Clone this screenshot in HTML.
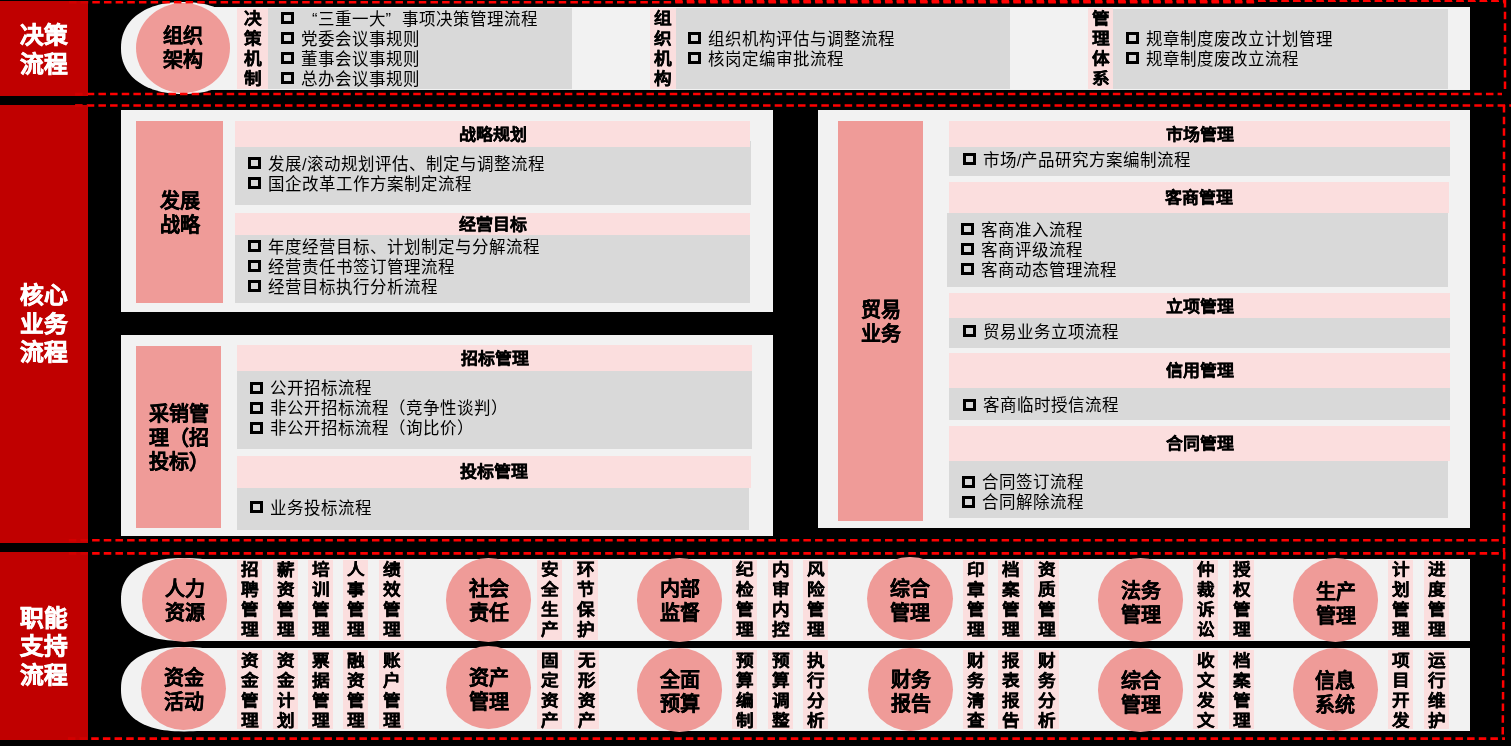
<!DOCTYPE html>
<html lang="zh-CN"><head><meta charset="utf-8">
<style>
html,body{margin:0;padding:0}
body{width:1511px;height:746px;background:#000;position:relative;overflow:hidden;font-family:"Liberation Sans",sans-serif;color:#000}
body div{position:absolute;box-sizing:border-box}
.ct{display:flex;align-items:center;justify-content:center;text-align:center;font-weight:bold}
.side{color:#fff;font-size:23px;line-height:28.4px;-webkit-text-stroke:0.6px #fff}
.side span{display:inline-block;transform:scaleX(1.03);position:relative;top:1.3px}
.big{font-size:20px;line-height:24px;-webkit-text-stroke:0.3px #000}
.hd{font-size:16px;line-height:20px;-webkit-text-stroke:0.3px #000}
.hd span{display:inline-block;transform:scaleX(1.06);padding-top:1.3px}
.vl{font-size:16px;line-height:20px;font-weight:bold;text-align:center;-webkit-text-stroke:0.3px #000;transform:scaleX(1.1)}
.bl{width:13px;height:12px;border:3px solid #000}
.li{font-size:16.5px;line-height:20px;white-space:nowrap}
svg{position:absolute;left:0;top:0}
.ql,.qr{display:inline-block;width:1em}
.ql{text-align:right}.qr{text-align:left}
#w{left:0;top:0;width:1511px;height:746px;will-change:transform}
</style></head><body><div id="w">

<div style="left:0px;top:1px;width:88px;height:94.5px;background:#c00000;"></div>
<div style="left:0px;top:105px;width:88px;height:438px;background:#c00000;"></div>
<div style="left:0px;top:552px;width:88px;height:188px;background:#c00000;"></div>
<div class="ct side" style="left:0px;top:1px;width:88px;height:94.5px;"><span>决策<br>流程</span></div>
<div class="ct side" style="left:0px;top:103.8px;width:88px;height:437.99999999999994px;"><span>核心<br>业务<br>流程</span></div>
<div class="ct side" style="left:0px;top:551.3px;width:88px;height:188.0px;"><span>职能<br>支持<br>流程</span></div>
<svg style="position:absolute;left:121px;top:2px;overflow:visible" width="124" height="92"><polygon points="124.00,46.00 123.92,49.15 123.69,51.90 123.31,54.52 122.77,57.03 122.08,59.46 121.24,61.82 120.24,64.10 119.11,66.30 117.83,68.44 116.40,70.50 114.84,72.48 113.13,74.38 111.30,76.19 109.34,77.93 107.24,79.57 105.03,81.12 102.70,82.58 100.25,83.94 97.69,85.20 95.02,86.36 92.24,87.42 89.37,88.37 86.39,89.21 83.32,89.95 80.14,90.57 76.87,91.09 73.48,91.48 69.96,91.77 66.24,91.94 62.00,92.00 57.76,91.94 54.04,91.77 50.52,91.48 47.13,91.09 43.86,90.57 40.68,89.95 37.61,89.21 34.63,88.37 31.76,87.42 28.98,86.36 26.31,85.20 23.75,83.94 21.30,82.58 18.97,81.12 16.76,79.57 14.66,77.93 12.70,76.19 10.87,74.38 9.16,72.48 7.60,70.50 6.17,68.44 4.89,66.30 3.76,64.10 2.76,61.82 1.92,59.46 1.23,57.03 0.69,54.52 0.31,51.90 0.08,49.15 0.00,46.00 0.08,42.85 0.31,40.10 0.69,37.48 1.23,34.97 1.92,32.54 2.76,30.18 3.76,27.90 4.89,25.70 6.17,23.56 7.60,21.50 9.16,19.52 10.87,17.62 12.70,15.81 14.66,14.07 16.76,12.43 18.97,10.88 21.30,9.42 23.75,8.06 26.31,6.80 28.98,5.64 31.76,4.58 34.63,3.63 37.61,2.79 40.68,2.05 43.86,1.43 47.13,0.91 50.52,0.52 54.04,0.23 57.76,0.06 62.00,0.00 66.24,0.06 69.96,0.23 73.48,0.52 76.87,0.91 80.14,1.43 83.32,2.05 86.39,2.79 89.37,3.63 92.24,4.58 95.02,5.64 97.69,6.80 100.25,8.06 102.70,9.42 105.03,10.88 107.24,12.43 109.34,14.07 111.30,15.81 113.13,17.62 114.84,19.52 116.40,21.50 117.83,23.56 119.11,25.70 120.24,27.90 121.24,30.18 122.08,32.54 122.77,34.97 123.31,37.48 123.69,40.10 123.92,42.85" fill="#f2f2f2"/></svg>
<div style="left:183px;top:7px;width:1287px;height:82.5px;background:#f2f2f2;"></div>
<div style="left:136px;top:2.5px;width:94px;height:90px;border-radius:50%;background:#ef9b98"></div>
<div class="ct big" style="left:136px;top:2.5px;width:94px;height:90.0px;">组织<br>架构</div>
<div style="left:237px;top:7.5px;width:31px;height:81.2px;background:#fbdede"></div>
<div class="vl" style="left:232px;top:9.3px;width:41px">决<br>策<br>机<br>制</div>
<div style="left:268px;top:7.5px;width:304px;height:81.2px;background:#d9d9d9;"></div>
<div class="bl" style="left:281px;top:12px"></div>
<div class="li" style="left:301.1px;top:8.6px"><span class=ql>“</span>三重一大<span class=qr>”</span>事项决策管理流程</div>
<div class="bl" style="left:281px;top:32px"></div>
<div class="li" style="left:301.1px;top:28.6px">党委会议事规则</div>
<div class="bl" style="left:281px;top:52px"></div>
<div class="li" style="left:301.1px;top:48.6px">董事会议事规则</div>
<div class="bl" style="left:281px;top:72px"></div>
<div class="li" style="left:301.1px;top:68.6px">总办会议事规则</div>
<div style="left:650px;top:7.5px;width:26px;height:81.2px;background:#fbdede"></div>
<div class="vl" style="left:645px;top:9.3px;width:36px">组<br>织<br>机<br>构</div>
<div style="left:676px;top:7.5px;width:334px;height:81.2px;background:#d9d9d9;"></div>
<div class="bl" style="left:688px;top:32px"></div>
<div class="li" style="left:708.1px;top:28.6px">组织机构评估与调整流程</div>
<div class="bl" style="left:688px;top:52px"></div>
<div class="li" style="left:708.1px;top:48.6px">核岗定编审批流程</div>
<div style="left:1088px;top:7.5px;width:25px;height:81.2px;background:#fbdede"></div>
<div class="vl" style="left:1083px;top:9.3px;width:35px">管<br>理<br>体<br>系</div>
<div style="left:1113px;top:8.5px;width:335px;height:80.2px;background:#d9d9d9;"></div>
<div class="bl" style="left:1126px;top:32px"></div>
<div class="li" style="left:1146.1px;top:28.6px">规章制度废改立计划管理</div>
<div class="bl" style="left:1126px;top:52px"></div>
<div class="li" style="left:1146.1px;top:48.6px">规章制度废改立流程</div>
<div style="left:121px;top:110px;width:652px;height:201.60000000000002px;background:#f2f2f2;"></div>
<div style="left:136px;top:121px;width:87px;height:181.60000000000002px;background:#ef9b98;"></div>
<div class="ct big" style="left:136px;top:122.3px;width:87px;height:181.59999999999997px;">发展<br>战略</div>
<div style="left:235px;top:141px;width:516px;height:64.4px;background:#d9d9d9;"></div>
<div style="left:235px;top:121px;width:515px;height:26px;background:#fbdede;"></div>
<div class="ct hd" style="left:235px;top:121px;width:515px;height:26px;"><span>战略规划</span></div>
<div class="bl" style="left:248px;top:157px"></div>
<div class="li" style="left:268.1px;top:153.6px">发展/滚动规划评估、制定与调整流程</div>
<div class="bl" style="left:248px;top:177px"></div>
<div class="li" style="left:268.1px;top:173.6px">国企改革工作方案制定流程</div>
<div style="left:235px;top:213.2px;width:515px;height:21.80000000000001px;background:#fbdede;"></div>
<div class="ct hd" style="left:235px;top:213.2px;width:515px;height:21.80000000000001px;"><span>经营目标</span></div>
<div style="left:235px;top:235px;width:515px;height:67.60000000000002px;background:#d9d9d9;"></div>
<div class="bl" style="left:248px;top:240px"></div>
<div class="li" style="left:268.1px;top:236.6px">年度经营目标、计划制定与分解流程</div>
<div class="bl" style="left:248px;top:260px"></div>
<div class="li" style="left:268.1px;top:256.6px">经营责任书签订管理流程</div>
<div class="bl" style="left:248px;top:280px"></div>
<div class="li" style="left:268.1px;top:276.6px">经营目标执行分析流程</div>
<div style="left:121px;top:334.8px;width:652px;height:201.2px;background:#f2f2f2;"></div>
<div style="left:136px;top:346px;width:85.19999999999999px;height:182px;background:#ef9b98;"></div>
<div class="ct big" style="left:136px;top:347px;width:85.19999999999999px;height:182px;text-align:left">采销管<br>理（招<br>投标）</div>
<div style="left:237px;top:345.4px;width:515px;height:25.400000000000034px;background:#fbdede;"></div>
<div class="ct hd" style="left:237px;top:345.4px;width:515px;height:25.400000000000034px;"><span>招标管理</span></div>
<div style="left:237px;top:370.8px;width:515px;height:77.80000000000001px;background:#d9d9d9;"></div>
<div class="bl" style="left:250px;top:381.5px"></div>
<div class="li" style="left:270.1px;top:378.1px">公开招标流程</div>
<div class="bl" style="left:250px;top:401.5px"></div>
<div class="li" style="left:270.1px;top:398.1px">非公开招标流程（竞争性谈判）</div>
<div class="bl" style="left:250px;top:421.5px"></div>
<div class="li" style="left:270.1px;top:418.1px">非公开招标流程（询比价）</div>
<div style="left:237px;top:456px;width:514px;height:31.5px;background:#fbdede;"></div>
<div class="ct hd" style="left:237px;top:456px;width:514px;height:31.5px;"><span>投标管理</span></div>
<div style="left:237px;top:487.5px;width:512px;height:42.299999999999955px;background:#d9d9d9;"></div>
<div class="bl" style="left:250px;top:501px"></div>
<div class="li" style="left:270.1px;top:497.6px">业务投标流程</div>
<div style="left:818px;top:110px;width:652px;height:417.70000000000005px;background:#f2f2f2;"></div>
<div style="left:838px;top:121px;width:85px;height:399.5px;background:#ef9b98;"></div>
<div class="ct big" style="left:838px;top:121.8px;width:85px;height:399.49999999999994px;">贸易<br>业务</div>
<div style="left:949px;top:121px;width:501px;height:26px;background:#fbdede;"></div>
<div class="ct hd" style="left:949px;top:121px;width:501px;height:26px;"><span>市场管理</span></div>
<div style="left:949px;top:147px;width:501px;height:28.599999999999994px;background:#d9d9d9;"></div>
<div class="bl" style="left:962.6px;top:153px"></div>
<div class="li" style="left:982.7px;top:149.6px">市场/产品研究方案编制流程</div>
<div style="left:949px;top:182px;width:500px;height:31px;background:#fbdede;"></div>
<div class="ct hd" style="left:949px;top:182px;width:500px;height:31px;"><span>客商管理</span></div>
<div style="left:947px;top:213px;width:501px;height:74px;background:#d9d9d9;"></div>
<div class="bl" style="left:961px;top:223.2px"></div>
<div class="li" style="left:981.1px;top:219.79999999999998px">客商准入流程</div>
<div class="bl" style="left:961px;top:243.2px"></div>
<div class="li" style="left:981.1px;top:239.79999999999998px">客商评级流程</div>
<div class="bl" style="left:961px;top:263.2px"></div>
<div class="li" style="left:981.1px;top:259.8px">客商动态管理流程</div>
<div style="left:949px;top:293px;width:501px;height:25px;background:#fbdede;"></div>
<div class="ct hd" style="left:949px;top:294px;width:501px;height:25px;"><span>立项管理</span></div>
<div style="left:949px;top:318px;width:501px;height:29.600000000000023px;background:#d9d9d9;"></div>
<div class="bl" style="left:962.6px;top:325px"></div>
<div class="li" style="left:982.7px;top:321.6px">贸易业务立项流程</div>
<div style="left:949px;top:353px;width:501px;height:34.69999999999999px;background:#fbdede;"></div>
<div class="ct hd" style="left:949px;top:353px;width:501px;height:34.69999999999999px;"><span>信用管理</span></div>
<div style="left:949px;top:387.7px;width:501px;height:32.80000000000001px;background:#d9d9d9;"></div>
<div class="bl" style="left:962.6px;top:398.5px"></div>
<div class="li" style="left:982.7px;top:395.1px">客商临时授信流程</div>
<div style="left:949px;top:425.8px;width:501px;height:34.89999999999998px;background:#fbdede;"></div>
<div class="ct hd" style="left:949px;top:425.8px;width:501px;height:34.89999999999998px;"><span>合同管理</span></div>
<div style="left:949px;top:460.7px;width:499px;height:56.900000000000034px;background:#d9d9d9;"></div>
<div class="bl" style="left:962px;top:475.5px"></div>
<div class="li" style="left:982.1px;top:472.1px">合同签订流程</div>
<div class="bl" style="left:962px;top:495.5px"></div>
<div class="li" style="left:982.1px;top:492.1px">合同解除流程</div>
<svg style="position:absolute;left:121px;top:558.2px;overflow:visible" width="126" height="83.00000000000007"><polygon points="126.00,41.50 125.93,44.87 125.71,47.57 125.34,50.06 124.83,52.40 124.17,54.64 123.37,56.78 122.42,58.83 121.33,60.80 120.11,62.69 118.74,64.51 117.24,66.24 115.60,67.90 113.83,69.48 111.93,70.98 109.91,72.40 107.75,73.73 105.48,74.99 103.08,76.15 100.56,77.23 97.93,78.22 95.17,79.12 92.30,79.93 89.31,80.64 86.19,81.26 82.94,81.79 79.55,82.23 75.99,82.56 72.22,82.81 68.12,82.95 63.00,83.00 57.88,82.95 53.78,82.81 50.01,82.56 46.45,82.23 43.06,81.79 39.81,81.26 36.69,80.64 33.70,79.93 30.83,79.12 28.07,78.22 25.44,77.23 22.92,76.15 20.52,74.99 18.25,73.73 16.09,72.40 14.07,70.98 12.17,69.48 10.40,67.90 8.76,66.24 7.26,64.51 5.89,62.69 4.67,60.80 3.58,58.83 2.63,56.78 1.83,54.64 1.17,52.40 0.66,50.06 0.29,47.57 0.07,44.87 0.00,41.50 0.07,38.13 0.29,35.43 0.66,32.94 1.17,30.60 1.83,28.36 2.63,26.22 3.58,24.17 4.67,22.20 5.89,20.31 7.26,18.49 8.76,16.76 10.40,15.10 12.17,13.52 14.07,12.02 16.09,10.60 18.25,9.27 20.52,8.01 22.92,6.85 25.44,5.77 28.07,4.78 30.83,3.88 33.70,3.07 36.69,2.36 39.81,1.74 43.06,1.21 46.45,0.77 50.01,0.44 53.78,0.19 57.88,0.05 63.00,0.00 68.12,0.05 72.22,0.19 75.99,0.44 79.55,0.77 82.94,1.21 86.19,1.74 89.31,2.36 92.30,3.07 95.17,3.88 97.93,4.78 100.56,5.77 103.08,6.85 105.48,8.01 107.75,9.27 109.91,10.60 111.93,12.02 113.83,13.52 115.60,15.10 117.24,16.76 118.74,18.49 120.11,20.31 121.33,22.20 122.42,24.17 123.37,26.22 124.17,28.36 124.83,30.60 125.34,32.94 125.71,35.43 125.93,38.13" fill="#f2f2f2"/></svg>
<div style="left:184px;top:558.8px;width:1286px;height:81.80000000000007px;background:#f2f2f2;"></div>
<svg style="position:absolute;left:121px;top:647.0000000000001px;overflow:visible" width="126" height="84.39999999999993"><polygon points="126.00,42.20 125.93,45.63 125.71,48.37 125.34,50.90 124.83,53.29 124.17,55.56 123.37,57.73 122.42,59.82 121.33,61.83 120.11,63.75 118.74,65.59 117.24,67.36 115.60,69.05 113.83,70.65 111.93,72.18 109.91,73.62 107.75,74.98 105.48,76.25 103.08,77.44 100.56,78.53 97.93,79.54 95.17,80.45 92.30,81.27 89.31,82.00 86.19,82.64 82.94,83.17 79.55,83.61 75.99,83.96 72.22,84.20 68.12,84.35 63.00,84.40 57.88,84.35 53.78,84.20 50.01,83.96 46.45,83.61 43.06,83.17 39.81,82.64 36.69,82.00 33.70,81.27 30.83,80.45 28.07,79.54 25.44,78.53 22.92,77.44 20.52,76.25 18.25,74.98 16.09,73.62 14.07,72.18 12.17,70.65 10.40,69.05 8.76,67.36 7.26,65.59 5.89,63.75 4.67,61.83 3.58,59.82 2.63,57.73 1.83,55.56 1.17,53.29 0.66,50.90 0.29,48.37 0.07,45.63 0.00,42.20 0.07,38.77 0.29,36.03 0.66,33.50 1.17,31.11 1.83,28.84 2.63,26.67 3.58,24.58 4.67,22.57 5.89,20.65 7.26,18.81 8.76,17.04 10.40,15.35 12.17,13.75 14.07,12.22 16.09,10.78 18.25,9.42 20.52,8.15 22.92,6.96 25.44,5.87 28.07,4.86 30.83,3.95 33.70,3.13 36.69,2.40 39.81,1.76 43.06,1.23 46.45,0.79 50.01,0.44 53.78,0.20 57.88,0.05 63.00,0.00 68.12,0.05 72.22,0.20 75.99,0.44 79.55,0.79 82.94,1.23 86.19,1.76 89.31,2.40 92.30,3.13 95.17,3.95 97.93,4.86 100.56,5.87 103.08,6.96 105.48,8.15 107.75,9.42 109.91,10.78 111.93,12.22 113.83,13.75 115.60,15.35 117.24,17.04 118.74,18.81 120.11,20.65 121.33,22.57 122.42,24.58 123.37,26.67 124.17,28.84 124.83,31.11 125.34,33.50 125.71,36.03 125.93,38.77" fill="#f2f2f2"/></svg>
<div style="left:184px;top:647.6px;width:1286px;height:83.19999999999993px;background:#f2f2f2;"></div>
<div style="left:141.89999999999998px;top:558.2px;width:85.4px;height:83.6px;border-radius:50%;background:#ef9b98"></div>
<div class="ct big" style="left:139.6px;top:558.85px;width:90.0px;height:84.0px;">人力<br>资源</div>
<div style="left:237px;top:559.6px;width:25px;height:80.39999999999998px;background:#fbdede"></div>
<div class="vl" style="left:232px;top:559.7px;width:35px">招<br>聘<br>管<br>理</div>
<div style="left:273px;top:559.6px;width:25px;height:80.39999999999998px;background:#fbdede"></div>
<div class="vl" style="left:268px;top:559.7px;width:35px">薪<br>资<br>管<br>理</div>
<div style="left:308px;top:559.6px;width:25px;height:80.39999999999998px;background:#fbdede"></div>
<div class="vl" style="left:303px;top:559.7px;width:35px">培<br>训<br>管<br>理</div>
<div style="left:343px;top:559.6px;width:25px;height:80.39999999999998px;background:#fbdede"></div>
<div class="vl" style="left:338px;top:559.7px;width:35px">人<br>事<br>管<br>理</div>
<div style="left:379px;top:559.6px;width:25px;height:80.39999999999998px;background:#fbdede"></div>
<div class="vl" style="left:374px;top:559.7px;width:35px">绩<br>效<br>管<br>理</div>
<div style="left:446.1px;top:558.1px;width:85.4px;height:83.6px;border-radius:50%;background:#ef9b98"></div>
<div class="ct big" style="left:443.8px;top:559.0px;width:89.99999999999994px;height:84.0px;">社会<br>责任</div>
<div style="left:537.3px;top:559.6px;width:25.0px;height:80.39999999999998px;background:#fbdede"></div>
<div class="vl" style="left:532.3px;top:559.7px;width:35.0px">安<br>全<br>生<br>产</div>
<div style="left:573.2px;top:559.6px;width:25.0px;height:80.39999999999998px;background:#fbdede"></div>
<div class="vl" style="left:568.2px;top:559.7px;width:35.0px">环<br>节<br>保<br>护</div>
<div style="left:637.0px;top:558.0500000000001px;width:85.4px;height:83.6px;border-radius:50%;background:#ef9b98"></div>
<div class="ct big" style="left:634.7px;top:559.2px;width:90.0px;height:84.0px;">内部<br>监督</div>
<div style="left:732.1px;top:559.6px;width:25.0px;height:80.39999999999998px;background:#fbdede"></div>
<div class="vl" style="left:727.1px;top:559.7px;width:35.0px">纪<br>检<br>管<br>理</div>
<div style="left:768px;top:559.6px;width:25px;height:80.39999999999998px;background:#fbdede"></div>
<div class="vl" style="left:763px;top:559.7px;width:35px">内<br>审<br>内<br>控</div>
<div style="left:803.2px;top:559.6px;width:25.0px;height:80.39999999999998px;background:#fbdede"></div>
<div class="vl" style="left:798.2px;top:559.7px;width:35.0px">风<br>险<br>管<br>理</div>
<div style="left:867.4px;top:556.5px;width:85.4px;height:83.6px;border-radius:50%;background:#ef9b98"></div>
<div class="ct big" style="left:865.1px;top:559.0px;width:90.0px;height:84.0px;">综合<br>管理</div>
<div style="left:963.1px;top:559.6px;width:25.0px;height:80.39999999999998px;background:#fbdede"></div>
<div class="vl" style="left:958.1px;top:559.7px;width:35.0px">印<br>章<br>管<br>理</div>
<div style="left:998px;top:559.6px;width:25px;height:80.39999999999998px;background:#fbdede"></div>
<div class="vl" style="left:993px;top:559.7px;width:35px">档<br>案<br>管<br>理</div>
<div style="left:1034.2px;top:559.6px;width:25.0px;height:80.39999999999998px;background:#fbdede"></div>
<div class="vl" style="left:1029.2px;top:559.7px;width:35.0px">资<br>质<br>管<br>理</div>
<div style="left:1097.8999999999999px;top:558.0500000000001px;width:85.4px;height:83.6px;border-radius:50%;background:#ef9b98"></div>
<div class="ct big" style="left:1095.6px;top:560.9px;width:90.0px;height:84.0px;">法务<br>管理</div>
<div style="left:1193.1px;top:559.6px;width:25.0px;height:80.39999999999998px;background:#fbdede"></div>
<div class="vl" style="left:1188.1px;top:559.7px;width:35.0px">仲<br>裁<br>诉<br>讼</div>
<div style="left:1229px;top:559.6px;width:25px;height:80.39999999999998px;background:#fbdede"></div>
<div class="vl" style="left:1224px;top:559.7px;width:35px">授<br>权<br>管<br>理</div>
<div style="left:1292.8999999999999px;top:558.1px;width:85.4px;height:83.6px;border-radius:50%;background:#ef9b98"></div>
<div class="ct big" style="left:1290.6px;top:561.85px;width:90.0px;height:84.0px;">生产<br>管理</div>
<div style="left:1388.4px;top:559.6px;width:25.0px;height:80.39999999999998px;background:#fbdede"></div>
<div class="vl" style="left:1383.4px;top:559.7px;width:35.0px">计<br>划<br>管<br>理</div>
<div style="left:1424.2px;top:559.6px;width:25.0px;height:80.39999999999998px;background:#fbdede"></div>
<div class="vl" style="left:1419.2px;top:559.7px;width:35.0px">进<br>度<br>管<br>理</div>
<div style="left:140.89999999999998px;top:646.7px;width:85.4px;height:83.6px;border-radius:50%;background:#ef9b98"></div>
<div class="ct big" style="left:138.6px;top:648.1px;width:90.0px;height:84.0px;">资金<br>活动</div>
<div style="left:237px;top:650px;width:25px;height:79.39999999999998px;background:#fbdede"></div>
<div class="vl" style="left:232px;top:650.5px;width:35px">资<br>金<br>管<br>理</div>
<div style="left:273px;top:650px;width:25px;height:79.39999999999998px;background:#fbdede"></div>
<div class="vl" style="left:268px;top:650.5px;width:35px">资<br>金<br>计<br>划</div>
<div style="left:308px;top:650px;width:25px;height:79.39999999999998px;background:#fbdede"></div>
<div class="vl" style="left:303px;top:650.5px;width:35px">票<br>据<br>管<br>理</div>
<div style="left:343px;top:650px;width:25px;height:79.39999999999998px;background:#fbdede"></div>
<div class="vl" style="left:338px;top:650.5px;width:35px">融<br>资<br>管<br>理</div>
<div style="left:379px;top:650px;width:25px;height:79.39999999999998px;background:#fbdede"></div>
<div class="vl" style="left:374px;top:650.5px;width:35px">账<br>户<br>管<br>理</div>
<div style="left:446.1px;top:645.9000000000001px;width:85.4px;height:83.6px;border-radius:50%;background:#ef9b98"></div>
<div class="ct big" style="left:443.8px;top:648.4px;width:89.99999999999994px;height:84.0px;">资产<br>管理</div>
<div style="left:537px;top:650px;width:25px;height:79.39999999999998px;background:#fbdede"></div>
<div class="vl" style="left:532px;top:650.5px;width:35px">固<br>定<br>资<br>产</div>
<div style="left:573.5px;top:650px;width:25.0px;height:79.39999999999998px;background:#fbdede"></div>
<div class="vl" style="left:568.5px;top:650.5px;width:35.0px">无<br>形<br>资<br>产</div>
<div style="left:637.0999999999999px;top:648.4000000000001px;width:85.4px;height:83.6px;border-radius:50%;background:#ef9b98"></div>
<div class="ct big" style="left:634.8px;top:649.7px;width:90.0px;height:84.0px;">全面<br>预算</div>
<div style="left:732.2px;top:650px;width:25.0px;height:79.39999999999998px;background:#fbdede"></div>
<div class="vl" style="left:727.2px;top:650.5px;width:35.0px">预<br>算<br>编<br>制</div>
<div style="left:768px;top:650px;width:25px;height:79.39999999999998px;background:#fbdede"></div>
<div class="vl" style="left:763px;top:650.5px;width:35px">预<br>算<br>调<br>整</div>
<div style="left:803px;top:650px;width:25px;height:79.39999999999998px;background:#fbdede"></div>
<div class="vl" style="left:798px;top:650.5px;width:35px">执<br>行<br>分<br>析</div>
<div style="left:868.0999999999999px;top:647.6px;width:85.4px;height:83.6px;border-radius:50%;background:#ef9b98"></div>
<div class="ct big" style="left:865.8px;top:650.1px;width:90.0px;height:84.0px;">财务<br>报告</div>
<div style="left:963.1px;top:650px;width:25.0px;height:79.39999999999998px;background:#fbdede"></div>
<div class="vl" style="left:958.1px;top:650.5px;width:35.0px">财<br>务<br>清<br>查</div>
<div style="left:998px;top:650px;width:25px;height:79.39999999999998px;background:#fbdede"></div>
<div class="vl" style="left:993px;top:650.5px;width:35px">报<br>表<br>报<br>告</div>
<div style="left:1034px;top:650px;width:25px;height:79.39999999999998px;background:#fbdede"></div>
<div class="vl" style="left:1029px;top:650.5px;width:35px">财<br>务<br>分<br>析</div>
<div style="left:1097.8999999999999px;top:648.4000000000001px;width:85.4px;height:83.6px;border-radius:50%;background:#ef9b98"></div>
<div class="ct big" style="left:1095.6px;top:650.7px;width:90.0px;height:84.0px;">综合<br>管理</div>
<div style="left:1193px;top:650px;width:25px;height:79.39999999999998px;background:#fbdede"></div>
<div class="vl" style="left:1188px;top:650.5px;width:35px">收<br>文<br>发<br>文</div>
<div style="left:1228.6px;top:650px;width:25.0px;height:79.39999999999998px;background:#fbdede"></div>
<div class="vl" style="left:1223.6px;top:650.5px;width:35.0px">档<br>案<br>管<br>理</div>
<div style="left:1292.7px;top:647.7px;width:85.4px;height:83.6px;border-radius:50%;background:#ef9b98"></div>
<div class="ct big" style="left:1290.4px;top:651.0px;width:90.0px;height:84.0px;">信息<br>系统</div>
<div style="left:1388.4px;top:650px;width:25.0px;height:79.39999999999998px;background:#fbdede"></div>
<div class="vl" style="left:1383.4px;top:650.5px;width:35.0px">项<br>目<br>开<br>发</div>
<div style="left:1423.8px;top:650px;width:25.0px;height:79.39999999999998px;background:#fbdede"></div>
<div class="vl" style="left:1418.8px;top:650.5px;width:35.0px">运<br>行<br>维<br>护</div>
<svg width="1511" height="746" viewBox="0 0 1511 746">
<line x1="69" y1="2.2" x2="1506" y2="2.2" stroke="#ff0000" stroke-width="2.6" stroke-dasharray="7.5 4.16"/>
<line x1="675" y1="1.2" x2="1506" y2="1.2" stroke="#ff0000" stroke-width="2.4" stroke-dasharray="7.5 4.16"/>
<rect x="1256" y="2" width="247" height="2" fill="#000"/>
<line x1="75.1" y1="94" x2="1502" y2="94" stroke="#ff0000" stroke-width="2.6" stroke-dasharray="7.5 4.16"/>
<line x1="1505" y1="0" x2="1505" y2="92" stroke="#ff0000" stroke-width="2.5" stroke-dasharray="7.5 4.16"/>
<line x1="75.1" y1="105.5" x2="1511" y2="105.5" stroke="#ff0000" stroke-width="2.6" stroke-dasharray="7.5 4.16"/>
<line x1="68.8" y1="540.2" x2="1504" y2="540.2" stroke="#ff0000" stroke-width="2.6" stroke-dasharray="7.5 4.16"/>
<line x1="1504" y1="105" x2="1504" y2="552" stroke="#ff0000" stroke-width="2.5" stroke-dasharray="7.5 4.16"/>
<line x1="68.8" y1="553.4" x2="1500" y2="553.4" stroke="#ff0000" stroke-width="2.6" stroke-dasharray="7.5 4.16"/>
<line x1="67.9" y1="738.6" x2="1505" y2="738.6" stroke="#ff0000" stroke-width="2.6" stroke-dasharray="7.5 4.16"/>
<line x1="1504.2" y1="552" x2="1502.7" y2="738" stroke="#ff0000" stroke-width="2.5" stroke-dasharray="7.5 4.16"/>
<rect x="60" y="1" width="28" height="3" fill="#c00000" fill-opacity="0.72"/>
<rect x="60" y="92" width="28" height="3.5" fill="#c00000" fill-opacity="0.72"/>
<rect x="60" y="105" width="28" height="3" fill="#c00000" fill-opacity="0.72"/>
<rect x="60" y="538" width="28" height="5" fill="#c00000" fill-opacity="0.72"/>
<rect x="60" y="552" width="28" height="4" fill="#c00000" fill-opacity="0.72"/>
<rect x="60" y="736" width="28" height="4" fill="#c00000" fill-opacity="0.72"/>
</svg>
</div></body></html>
